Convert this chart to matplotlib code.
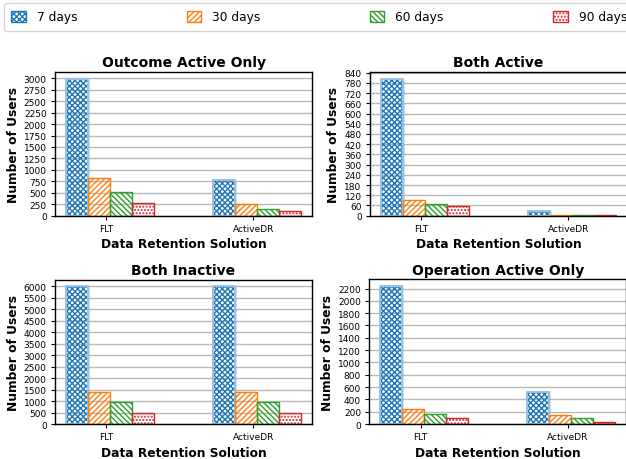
import numpy as np
import matplotlib
matplotlib.use("Agg")
import matplotlib.pyplot as plt

solutions = ["FLT", "ActiveDR"]
windows = ["7 days", "30 days", "60 days", "90 days"]
colors = ["#1f77b4", "#ff7f0e", "#2ca02c", "#d62728"]
hatches = ["xxxxxx", "//////", "\\\\\\\\\\\\", "....."]

titles = ["Outcome Active Only", "Both Active", "Both Inactive", "Operation Active Only"]

# users per window (rows) for FLT / ActiveDR
outcome_active = [[2995, 779], [823, 255], [511, 146], [277, 109]]
both_active = [[806, 29], [92, 1], [68, 1], [57, 1]]
both_inactive = [[5990, 5990], [1405, 1400], [970, 960], [478, 475]]
operation_active = [[2240, 514], [243, 151], [162, 92], [92, 28]]

panels = [outcome_active, both_active, both_inactive, operation_active]
ytick_steps = [250, 60, 500, 200]

# axes rectangles in figure fraction (left, bottom, width, height)
rects = [
    (0.0879, 0.529, 0.4105, 0.313),
    (0.591, 0.529, 0.4105, 0.313),
    (0.0879, 0.076, 0.4105, 0.314),
    (0.590, 0.076, 0.4105, 0.315),
]

bar_w = 0.15
fig = plt.figure(figsize=(6.26, 4.6), dpi=100)
x = np.arange(len(solutions))

handles = []
for k, data in enumerate(panels):
    ax = fig.add_axes(rects[k])
    ax.set_axisbelow(True)
    ax.yaxis.grid(True, color="#b8b8b8", linewidth=1.0)
    for i, vals in enumerate(data):
        b = ax.bar(x + i * bar_w, vals, bar_w, facecolor="none",
                   edgecolor=colors[i], hatch=hatches[i], linewidth=1.0,
                   label=windows[i])
        if i == 0:
            # lighter outline round the blue bars
            ax.bar(x, vals, bar_w, facecolor="none", edgecolor="#9cc3e4", linewidth=1.4)
        if k == 0:
            handles.append(b)
    top = max(max(v) for v in data) * 1.05
    ax.set_ylim(0, top)
    ax.set_yticks(np.arange(0, top, ytick_steps[k]))
    ax.set_xlim(-0.15, 1.60)
    ax.set_xticks(x + 0.2)
    ax.set_xticklabels(solutions)
    ax.tick_params(axis="both", labelsize=6.5, length=3, pad=3)
    ax.set_title(titles[k], fontsize=10, fontweight="bold", pad=4)
    ax.set_xlabel("Data Retention Solution", fontsize=8.8, fontweight="bold", labelpad=3)
    ax.set_ylabel("Number of Users", fontsize=8.8, fontweight="bold", labelpad=3)
    for s in ax.spines.values():
        s.set_linewidth(1.0)

fig.legend(handles, windows, loc="upper left", ncol=4, mode="expand",
           bbox_to_anchor=(0.0064, 0.0, 1.007, 0.991), fontsize=8.8,
           handlelength=1.18, handleheight=1.0, handletextpad=0.9,
           borderpad=0.6, borderaxespad=0.0, fancybox=True)

fig.savefig("out.png", dpi=100)
